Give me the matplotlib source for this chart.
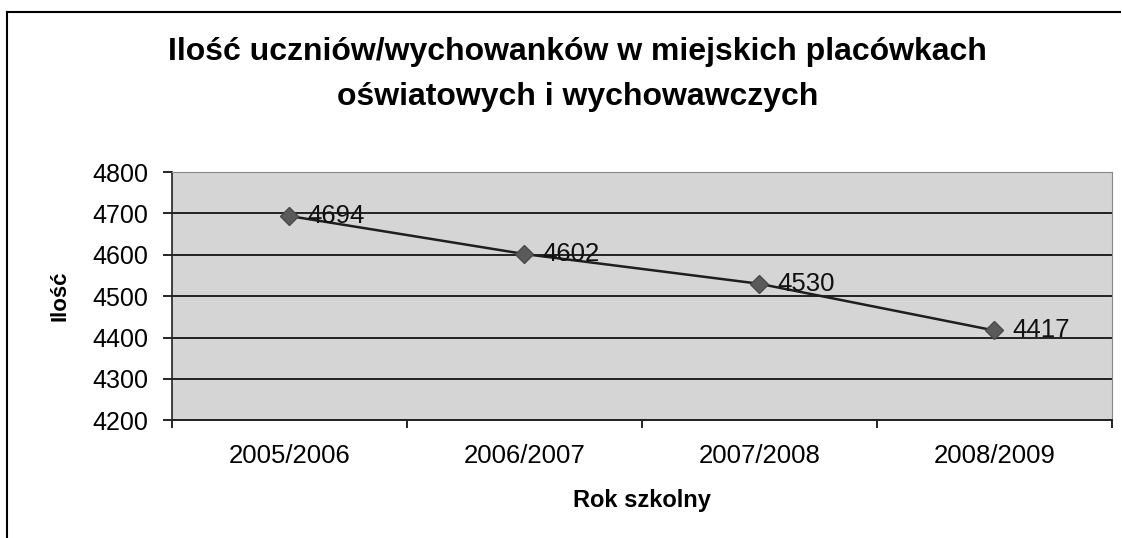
import numpy as np
import matplotlib.pyplot as plt

# data
years = ['2005/2006', '2006/2007', '2007/2008', '2008/2009']
counts = [4694, 4602, 4530, 4417]

plt.rcParams['font.family'] = ['Liberation Sans', 'DejaVu Sans']

fig = plt.figure(figsize=(11.22, 5.38), dpi=100)
ax = fig.add_axes([0.153, 0.219, 0.838, 0.461])

x = np.arange(1, len(years) + 1)
ax.set_facecolor('#d5d5d5')
ax.plot(x, counts, color='#1e1e1e', lw=1.8, marker='D', ms=9,
        mfc='#5a5a5a', mec='#4a4a4a', zorder=3)
for xi, v in zip(x, counts):
    ax.annotate(str(v), (xi, v), xytext=(13, 0), textcoords='offset points',
                va='center', ha='left', fontsize=18.5, color='#111111')

ax.set_xlim(0.5, len(years) + 0.5)
ax.set_ylim(4200, 4800)
ax.set_yticks(np.arange(4200, 4801, 100))
ax.yaxis.grid(True, color='#222222', lw=1.4)
ax.set_axisbelow(True)

# category boundaries get the ticks, labels sit in the middle
ax.set_xticks(np.arange(0.5, len(years) + 1, 1.0))
ax.set_xticklabels([])
ax.set_xticks(x, minor=True)
ax.set_xticklabels(years, minor=True, fontsize=18.5)
ax.tick_params(axis='x', which='minor', length=0, pad=17)
ax.tick_params(axis='x', which='major', length=6, direction='out', width=1.2)
ax.tick_params(axis='y', labelsize=18, length=6.5, pad=10, direction='out', width=1.2)

for s in ['top', 'right']:
    ax.spines[s].set_color('#888888')
ax.spines['left'].set_color('#222222')
ax.spines['bottom'].set_color('#222222')
ax.spines['left'].set_linewidth(1.2)
ax.spines['bottom'].set_linewidth(1.4)

ax.set_xlabel('Rok szkolny', fontsize=17, fontweight='bold', labelpad=15)
ax.set_ylabel('Ilość', fontsize=16, fontweight='bold', labelpad=16)

fig.text(0.515, 0.861, 'Ilość uczniów/wychowanków w miejskich placówkach\noświatowych i wychowawczych',
         ha='center', va='center', fontsize=23, fontweight='bold', linespacing=1.65)

# frame around the chart (left and top edges visible in the scan)
fig.add_artist(plt.Line2D([0.006, 0.006], [0.0, 0.978], color='black', lw=1.5))
fig.add_artist(plt.Line2D([0.006, 0.998], [0.978, 0.978], color='black', lw=1.5))

fig.savefig('out.png', dpi=100)
